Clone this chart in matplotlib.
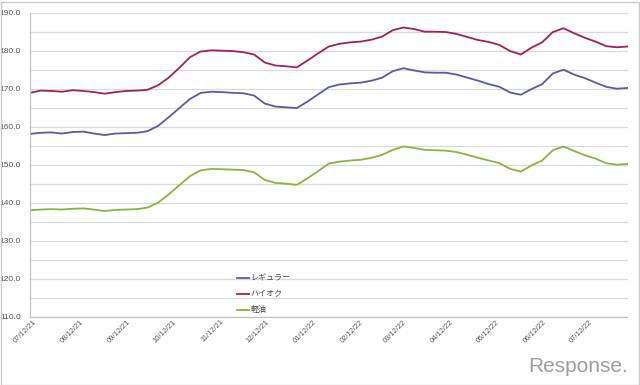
import numpy as np
import pandas as pd
import matplotlib
matplotlib.use("Agg")
import matplotlib.pyplot as plt
import matplotlib.dates as mdates
from matplotlib.ticker import MultipleLocator, FormatStrFormatter
from matplotlib.transforms import ScaledTranslation
from matplotlib.patches import Rectangle

plt.rcParams['font.family'] = ['Liberation Sans', 'Noto Sans CJK JP', 'DejaVu Sans']

# --------------------------------------------
# dados (semanal, a partir de 12/07/2021)
datas = pd.date_range('2021-07-12', periods=57, freq='7D')

regular = [158.1, 158.4, 158.5, 158.2, 158.6, 158.7, 158.2, 157.8, 158.2, 158.3,
           158.4, 158.8, 160.2, 162.5, 164.9, 167.3, 168.9, 169.2, 169.1, 168.9,
           168.8, 168.2, 166.1, 165.3, 165.1, 164.9, 166.6, 168.5, 170.4, 171.1,
           171.4, 171.6, 172.1, 172.9, 174.6, 175.4, 174.8, 174.3, 174.2, 174.2,
           173.7, 172.9, 172.1, 171.2, 170.5, 169.0, 168.4, 169.9, 171.2, 174.0,
           175.0, 173.7, 172.8, 171.6, 170.5, 170.0, 170.2]

haioku = [168.9, 169.5, 169.4, 169.2, 169.6, 169.4, 169.1, 168.7, 169.1, 169.4,
          169.5, 169.7, 170.9, 172.9, 175.5, 178.3, 179.8, 180.1, 180.0, 179.9,
          179.6, 179.0, 176.9, 176.1, 175.9, 175.6, 177.4, 179.3, 181.1, 181.8,
          182.2, 182.4, 182.9, 183.7, 185.4, 186.1, 185.7, 185.0, 185.0, 184.9,
          184.4, 183.6, 182.8, 182.3, 181.5, 179.9, 179.0, 180.8, 182.2, 184.9,
          185.9, 184.6, 183.4, 182.4, 181.2, 180.9, 181.1]

keiyu = [138.0, 138.2, 138.3, 138.2, 138.4, 138.5, 138.2, 137.8, 138.1, 138.2,
         138.3, 138.7, 140.0, 142.2, 144.6, 147.0, 148.5, 148.9, 148.8, 148.7,
         148.6, 148.0, 146.0, 145.2, 145.0, 144.7, 146.4, 148.3, 150.3, 150.8,
         151.1, 151.3, 151.8, 152.6, 153.9, 154.8, 154.4, 153.9, 153.8, 153.7,
         153.3, 152.6, 151.8, 151.1, 150.4, 148.9, 148.2, 149.8, 151.1, 153.8,
         154.8, 153.6, 152.5, 151.6, 150.4, 150.0, 150.2]

nomes = ['レギュラー', 'ハイオク', '軽油']
cores = ['#5b5ba3', '#a3205a', '#8cb43c']

# --------------------------------------------
# grafico
fig = plt.figure(figsize=(6.4, 3.85), dpi=100)
ax = fig.add_axes([30/640, 1 - 316.7/385, 597.5/640, 304/385])

for serie, nome, cor in zip([regular, haioku, keiyu], nomes, cores):
    ax.plot(datas, serie, color=cor, lw=1.3, label=nome)

ax.set_ylim(110, 190)
ax.set_xlim(datas[0], datas[-1])
ax.yaxis.set_major_locator(MultipleLocator(10))
ax.yaxis.set_minor_locator(MultipleLocator(5))
ax.yaxis.set_major_formatter(FormatStrFormatter('%.1f'))
ax.grid(which='both', axis='y', color='#d9d9d9', lw=0.9)
ax.set_axisbelow(True)

ax.xaxis.set_major_locator(mdates.MonthLocator(bymonthday=12))
ax.xaxis.set_major_formatter(mdates.DateFormatter('%m/%d/%y'))

for s in ['top', 'right']:
    ax.spines[s].set_visible(False)
for s in ['left', 'bottom']:
    ax.spines[s].set_color('#c0c0c0')
    ax.spines[s].set_linewidth(0.9)

ax.tick_params(axis='both', which='both', length=0)
ax.tick_params(axis='y', labelsize=6.0, labelcolor='#555555', pad=6.5)
ax.tick_params(axis='x', labelsize=5.4, labelcolor='#555555', pad=3)

desloc = ScaledTranslation(5/100, 0, fig.dpi_scale_trans)
for lab in ax.get_xticklabels():
    lab.set_rotation(45)
    lab.set_ha('right')
    lab.set_va('center')
    lab.set_rotation_mode('anchor')
    lab.set_transform(lab.get_transform() + desloc)

leg = ax.legend(loc='upper left', bbox_to_anchor=(237/640, 1 - 275/385),
                bbox_transform=fig.transFigure, frameon=False,
                fontsize=5.8, handlelength=1.5, handletextpad=0.2,
                labelspacing=1.0, borderpad=0, borderaxespad=0)
for t in leg.get_texts():
    t.set_color('#444444')

# marca d'agua
fig.text(628/640, 1 - 366/385, 'Response.', ha='right', va='center',
         fontsize=15, color='#9d9d9d', family='Liberation Sans')

# moldura
fig.patches.append(Rectangle((0.5/640, 0.5/385), 638.5/640, 383/385,
                             transform=fig.transFigure, fill=False,
                             edgecolor='#cccccc', lw=1))

fig.savefig('out.png', dpi=100)
